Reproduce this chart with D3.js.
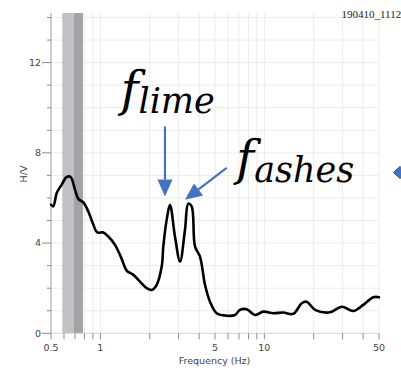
<!DOCTYPE html>
<html>
<head>
<meta charset="utf-8">
<script src="https://cdn.jsdelivr.net/npm/d3@7"></script>
<style>
  html, body { margin: 0; padding: 0; background: #fff; }
  svg { display: block; }
  .tick-label { font-family: "DejaVu Sans", sans-serif; font-size: 9.5px; fill: #444; }
</style>
</head>
<body>
<svg id="chart" width="401" height="370"></svg>
<script>
// data
const freq = [0.5, 0.516, 0.542, 0.581, 0.623, 0.659, 0.700, 0.734, 0.787, 0.844, 0.898, 0.958,
  1.042, 1.118, 1.228, 1.349, 1.447, 1.589, 1.745, 1.916, 2.056, 2.205, 2.366, 2.420, 2.538,
  2.658, 2.850, 3.059, 3.281, 3.436, 3.604, 3.775, 4.049, 4.345, 4.66, 5.12, 5.89, 6.62, 7.10,
  7.80, 8.77, 9.85, 11.34, 13.05, 15.01, 16.89, 18.11, 20.37, 25.12, 29.63, 34.86, 40.1, 46.2, 50];
const hv = [5.70, 5.63, 6.22, 6.59, 6.93, 6.93, 6.37, 5.96, 5.80, 5.40, 4.89, 4.47,
  4.47, 4.29, 3.92, 3.30, 2.78, 2.59, 2.29, 2.00, 1.92, 2.15, 2.96, 3.85, 5.04,
  5.70, 4.29, 3.18, 4.59, 5.75, 5.63, 3.85, 3.40, 2.15, 1.40, 0.89, 0.78, 0.81, 1.04,
  1.07, 0.81, 0.96, 0.89, 0.92, 0.86, 1.33, 1.40, 1.04, 0.93, 1.18, 0.99, 1.26, 1.60, 1.60];

// shaded bands [from, to] in Hz
const bandLight = [0.586, 0.687];
const bandDark = [0.687, 0.783];

const xMinor = [0.5, 0.6, 0.7, 0.8, 0.9, 1, 2, 3, 4, 5, 6, 7, 8, 9, 10, 20, 30, 40, 50];
const xLabels = [0.5, 1, 5, 10, 50];
const yMinor = d3.range(0, 15);
const yLabels = [0, 4, 8, 12];

// annotations, in data coordinates
const arrows = [
  { from: [2.477, 9.17], to: [2.477, 6.06] },
  { from: [5.89, 7.33], to: [3.281, 5.92] }
];
const notes = [
  { f: 1.33, v: 10.08, sub: 'lime' },
  { f: 6.75, v: 7.03, sub: 'ashes' }
];

const svg = d3.select('#chart');
const pLeft = 51, pRight = 379, pTop = 13, pBottom = 333.3;

const x = d3.scaleLog().domain([0.5, 50]).range([pLeft, pRight]);
const y = d3.scaleLinear().domain([0, 14.2]).range([pBottom, pTop]);

// grid
svg.append('g').selectAll('line').data(yMinor).enter().append('line')
  .attr('x1', pLeft).attr('x2', pRight)
  .attr('y1', d => y(d)).attr('y2', d => y(d))
  .attr('stroke', '#ececec').attr('stroke-width', 1);
svg.append('g').selectAll('line').data(xMinor).enter().append('line')
  .attr('x1', d => x(d)).attr('x2', d => x(d))
  .attr('y1', pTop).attr('y2', pBottom)
  .attr('stroke', '#ececec').attr('stroke-width', 1);

// bands
svg.append('rect').attr('x', x(bandLight[0])).attr('width', x(bandLight[1]) - x(bandLight[0]))
  .attr('y', pTop).attr('height', pBottom - pTop).attr('fill', '#c1c1c1');
svg.append('rect').attr('x', x(bandDark[0])).attr('width', x(bandDark[1]) - x(bandDark[0]))
  .attr('y', pTop).attr('height', pBottom - pTop).attr('fill', '#a2a2a7');

// y axis
const yAxis = svg.append('g');
yAxis.append('line').attr('x1', pLeft).attr('x2', pLeft).attr('y1', pTop).attr('y2', pBottom)
  .attr('stroke', '#a5a5a5');
yAxis.selectAll('.mt').data(yMinor).enter().append('line')
  .attr('x1', d => yLabels.includes(d) ? pLeft - 9 : pLeft - 4).attr('x2', pLeft)
  .attr('y1', d => y(d)).attr('y2', d => y(d))
  .attr('stroke', '#8a8a8a');
yAxis.selectAll('text').data(yLabels).enter().append('text')
  .attr('class', 'tick-label')
  .attr('x', pLeft - 10).attr('y', d => y(d) + 3.4)
  .attr('text-anchor', 'end').text(d => d);

// x axis
const xAxis = svg.append('g');
xAxis.append('line').attr('x1', pLeft).attr('x2', pRight).attr('y1', pBottom).attr('y2', pBottom)
  .attr('stroke', '#dcdcdc');
xAxis.selectAll('line.t').data(xMinor).enter().append('line')
  .attr('x1', d => x(d)).attr('x2', d => x(d))
  .attr('y1', pBottom).attr('y2', pBottom + 6)
  .attr('stroke', '#8a8a8a');
xAxis.selectAll('text').data(xLabels).enter().append('text')
  .attr('class', 'tick-label')
  .attr('x', d => x(d)).attr('y', 350.7)
  .attr('text-anchor', 'middle').text(d => d);

svg.append('text').attr('class', 'tick-label')
  .attr('x', (pLeft + pRight) / 2 - 0.5).attr('y', 364)
  .attr('text-anchor', 'middle').text('Frequency (Hz)');
svg.append('text').attr('class', 'tick-label')
  .attr('transform', `translate(27,174) rotate(-90)`)
  .attr('text-anchor', 'middle').text('H/V');

// title
svg.append('text').attr('x', 341.5).attr('y', 17.5)
  .attr('font-family', '"Liberation Serif", serif').attr('font-size', 11).attr('fill', '#222')
  .text('190410_1112');

// curve
const line = d3.line().x((d, i) => x(freq[i])).y(d => y(d)).curve(d3.curveCatmullRom.alpha(0.5));
svg.append('path').datum(hv).attr('d', line)
  .attr('fill', 'none').attr('stroke', '#000').attr('stroke-width', 2.6)
  .attr('stroke-linejoin', 'round').attr('stroke-linecap', 'round');

// arrows
const blue = '#4472c4';
arrows.forEach(a => {
  const x1 = x(a.from[0]), y1 = y(a.from[1]), x2 = x(a.to[0]), y2 = y(a.to[1]);
  const ang = Math.atan2(y2 - y1, x2 - x1);
  const head = 17, half = 7.5;
  const bx = x2 - head * Math.cos(ang), by = y2 - head * Math.sin(ang);
  svg.append('line').attr('x1', x1).attr('y1', y1).attr('x2', bx).attr('y2', by)
    .attr('stroke', blue).attr('stroke-width', 2.2);
  const px = -Math.sin(ang) * half, py = Math.cos(ang) * half;
  svg.append('path')
    .attr('d', `M${x2},${y2}L${bx + px},${by + py}L${bx - px},${by - py}Z`)
    .attr('fill', blue);
});

// f labels
notes.forEach(n => {
  const t = svg.append('text')
    .attr('x', x(n.f)).attr('y', y(n.v))
    .attr('font-family', '"DejaVu Serif", serif').attr('font-style', 'italic').attr('fill', '#000');
  t.append('tspan').attr('font-size', 48).text('f');
  t.append('tspan').attr('font-size', 35).attr('dy', 7).attr('dx', 0).text(n.sub);
});

// partial diamond at right edge
svg.append('path')
  .attr('d', 'M393.5,172.5L400,166.5L406.5,172.5L400,178.5Z')
  .attr('fill', blue).attr('stroke', '#2f4f8f').attr('stroke-width', 1);
</script>
</body>
</html>
